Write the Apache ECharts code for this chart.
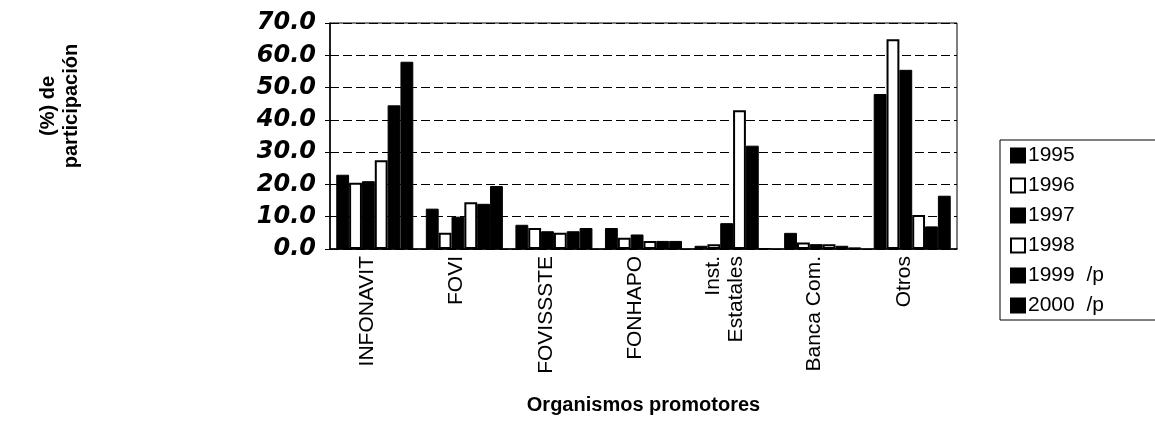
<!DOCTYPE html>
<html>
<head>
<meta charset="utf-8">
<script src="https://cdn.jsdelivr.net/npm/echarts@6/dist/echarts.min.js"></script>
<style>
  html, body { margin: 0; padding: 0; background: #fff; }
  #chart { width: 1155px; height: 425px; }
</style>
</head>
<body>
<div id="chart"></div>
<script>
// organismos promotores
const categorias = ['INFONAVIT', 'FOVI', 'FOVISSSTE', 'FONHAPO', 'Inst.\nEstatales', 'Banca Com.', 'Otros']
const anios = ['1995', '1996', '1997', '1998', '1999  /p', '2000  /p']

// % de participacion por año
const v1995 = [23.0, 12.5, 7.5, 6.5, 1.0, 5.0, 48.0]
const v1996 = [20.5, 5.0, 6.5, 3.5, 1.5, 2.0, 65.0]
const v1997 = [21.0, 10.0, 5.5, 4.5, 8.0, 1.5, 55.5]
const v1998 = [27.5, 14.5, 5.0, 2.5, 43.0, 1.5, 10.5]
const v1999 = [44.5, 14.0, 5.5, 2.5, 32.0, 1.0, 7.0]
const v2000 = [58.0, 19.5, 6.5, 2.5, 0.3, 0.5, 16.5]
const valores = [v1995, v1996, v1997, v1998, v1999, v2000]

const ejeY = [0, 10, 20, 30, 40, 50, 60, 70]

const chart = echarts.init(document.getElementById('chart'))

const blanco = { color: '#fff', borderColor: '#000', borderWidth: 2 }
const negro = { color: '#000', borderColor: '#000', borderWidth: 1 }

const option = {
  animation: false,
  textStyle: { fontFamily: 'Liberation Sans, Arial, sans-serif', color: '#000' },
  grid: {
    left: 330, right: 198, top: 23, bottom: 176,
    show: true, borderColor: '#000', borderWidth: 1
  },
  legend: {
    orient: 'vertical',
    left: 1000, top: 140,
    data: anios,
    icon: 'rect',
    itemWidth: 14, itemHeight: 14, itemGap: 9,
    padding: [5, 80, 4, 10],
    borderColor: '#000', borderWidth: 1,
    textStyle: { fontSize: 21, color: '#000', padding: [0, 0, 0, -2] }
  },
  xAxis: {
    type: 'category',
    data: categorias,
    name: 'Organismos promotores',
    nameLocation: 'middle',
    nameGap: 146,
    nameTextStyle: { fontSize: 20, fontWeight: 'bold', color: '#000' },
    axisLine: { lineStyle: { color: '#000', width: 1.5 } },
    axisTick: { lineStyle: { color: '#000' }, length: 6 },
    axisLabel: {
      rotate: 90, fontSize: 21, color: '#000', margin: 7,
      interval: 0, lineHeight: 23,
      // linea vacia al final: corre el texto unos px a la izquierda
      formatter: v => v + '\n{g|\u00a0}',
      rich: { g: { fontSize: 8, lineHeight: 16 } }
    }
  },
  yAxis: {
    type: 'value',
    min: ejeY[0], max: ejeY[ejeY.length - 1], interval: 10,
    name: '(%) de\nparticipación',
    nameLocation: 'middle',
    nameRotate: 90,
    nameGap: 247,
    nameTextStyle: {
      fontSize: 20, fontWeight: 'bold', color: '#000', lineHeight: 23,
      padding: [0, 0, 0, 60]
    },
    axisLine: { show: true, lineStyle: { color: '#000', width: 1.5 } },
    axisTick: { show: true, length: 5, lineStyle: { color: '#000' } },
    axisLabel: {
      fontFamily: 'DejaVu Sans', fontSize: 24, fontWeight: 'bold', fontStyle: 'italic',
      color: '#000', margin: 14,
      formatter: v => v.toFixed(1)
    },
    splitLine: { lineStyle: { color: '#000', type: [9, 4], width: 1 } }
  },
  series: anios.map((a, i) => ({
    name: a,
    type: 'bar',
    data: valores[i],
    barGap: '0%',
    barCategoryGap: '14%',
    itemStyle: (i === 1 || i === 3) ? blanco : negro
  }))
}

chart.setOption(option)
</script>
</body>
</html>
